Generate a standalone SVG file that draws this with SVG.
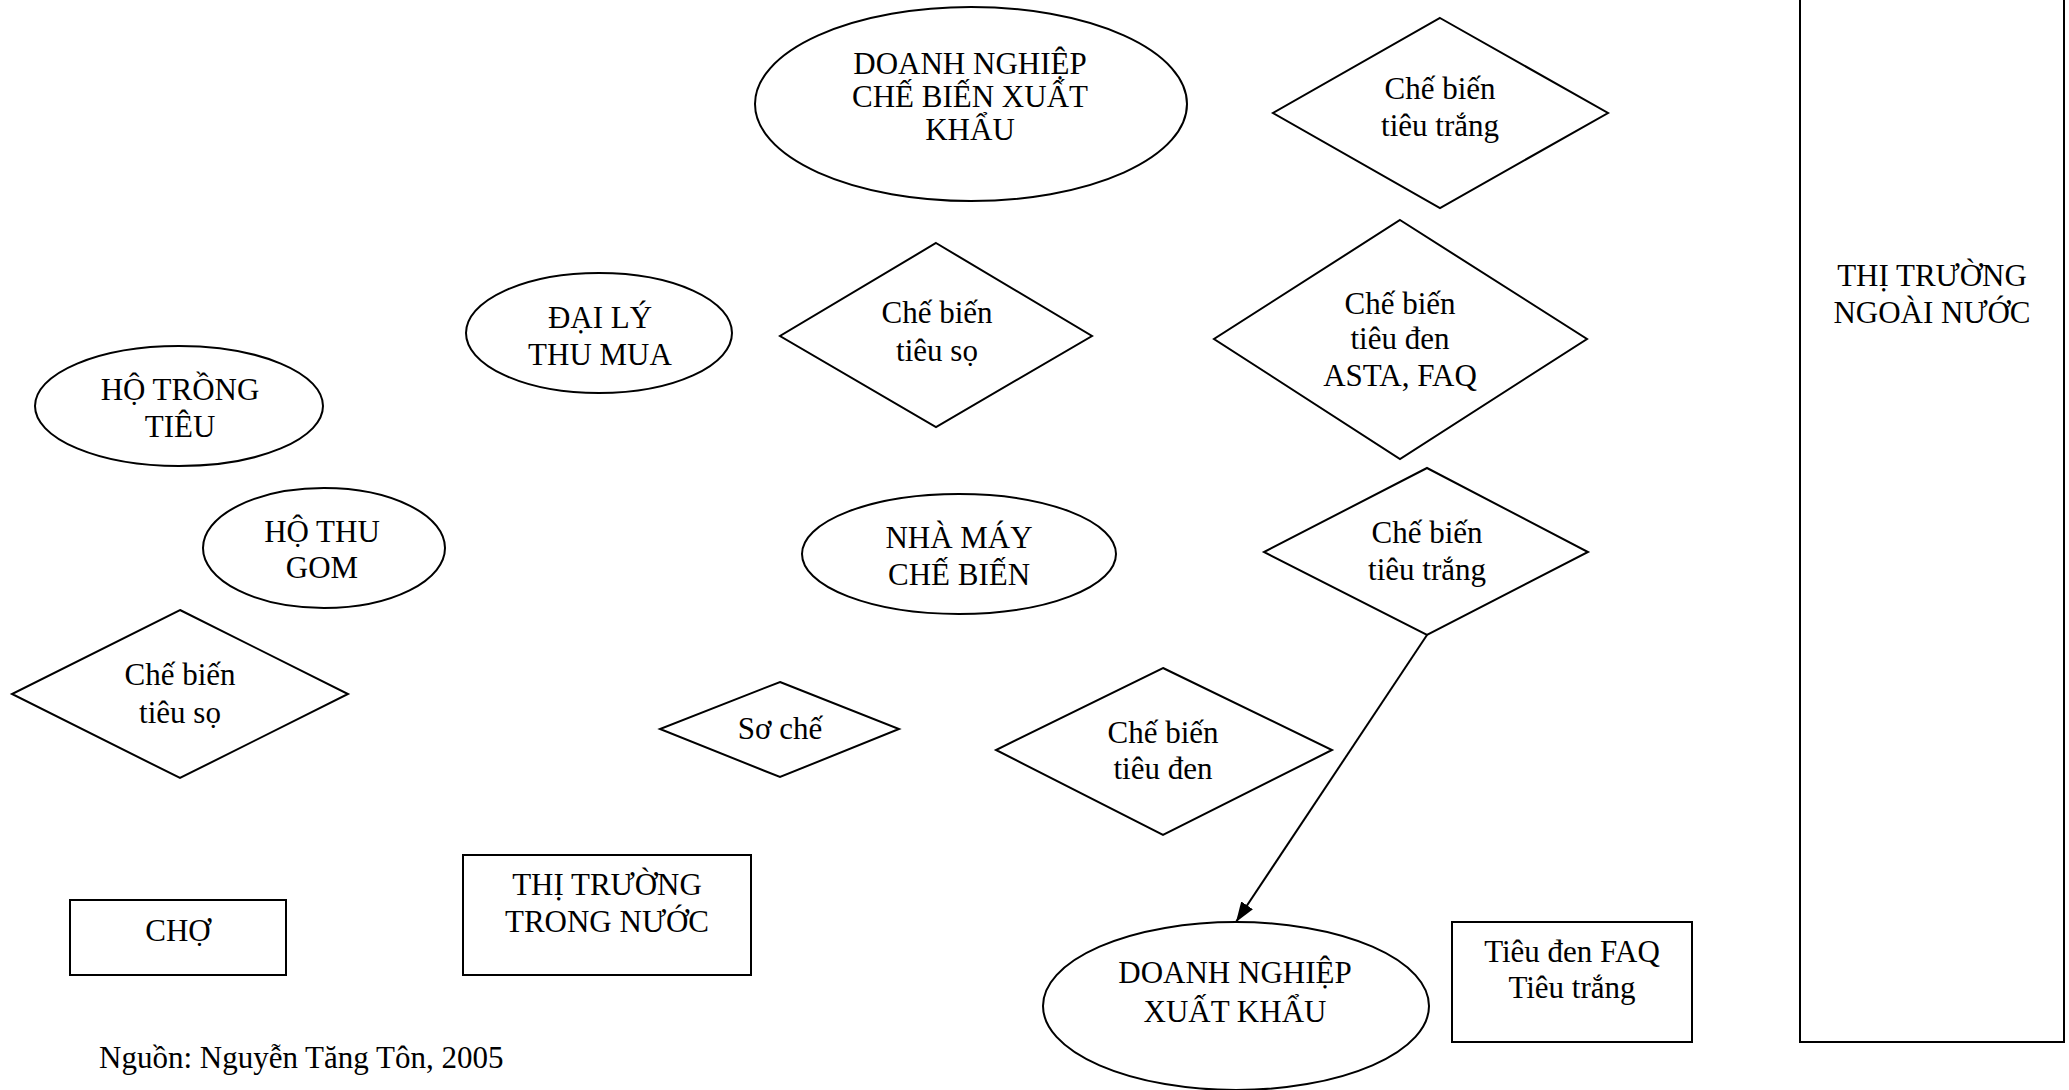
<svg xmlns="http://www.w3.org/2000/svg" width="2069" height="1090" viewBox="0 0 2069 1090">
<style>
.s{fill:#fff;stroke:#000;stroke-width:2}
.t{font-family:"Liberation Serif","Times New Roman",serif;font-size:31px;fill:#000;text-anchor:middle}
.c{stroke:#000;stroke-width:2;fill:none}
</style>
<defs>
<marker id="ah" viewBox="0 0 20 14" refX="20" refY="7" markerWidth="20" markerHeight="14" markerUnits="userSpaceOnUse" orient="auto">
<path d="M0,0 L20,7 L0,14 z" fill="#000"/>
</marker>
</defs>
<rect width="2069" height="1090" fill="#fff"/>
<g id="dn_cbxk"><ellipse class="s" cx="971" cy="104" rx="216" ry="97"/>
<text class="t" x="970" y="74">DOANH NGHIỆP</text><text class="t" x="970" y="107">CHẾ BIẾN XUẤT</text><text class="t" x="970" y="140">KHẨU</text></g>
<g id="cb_trang1"><polygon class="s" points="1440,18 1608,113 1440,208 1273,113"/>
<text class="t" x="1440" y="99">Chế biến</text><text class="t" x="1440" y="136">tiêu trắng</text></g>
<g id="cb_asta"><polygon class="s" points="1400,220 1587,339 1400,459 1214,339"/>
<text class="t" x="1400" y="314">Chế biến</text><text class="t" x="1400" y="349">tiêu đen</text><text class="t" x="1400" y="386">ASTA, FAQ</text></g>
<g id="cb_trang2"><polygon class="s" points="1427,468 1588,552 1427,635 1264,552"/>
<text class="t" x="1427" y="543">Chế biến</text><text class="t" x="1427" y="580">tiêu trắng</text></g>
<g id="dai_ly"><ellipse class="s" cx="599" cy="333" rx="133" ry="60"/>
<text class="t" x="600" y="328">ĐẠI LÝ</text><text class="t" x="600" y="365">THU MUA</text></g>
<g id="cb_so_mid"><polygon class="s" points="936,243 1092,336 936,427 780,336"/>
<text class="t" x="937" y="323">Chế biến</text><text class="t" x="937" y="361">tiêu sọ</text></g>
<g id="ho_trong"><ellipse class="s" cx="179" cy="406" rx="144" ry="60"/>
<text class="t" x="180" y="400">HỘ TRỒNG</text><text class="t" x="180" y="437">TIÊU</text></g>
<g id="ho_thu_gom"><ellipse class="s" cx="324" cy="548" rx="121" ry="60"/>
<text class="t" x="322" y="542">HỘ THU</text><text class="t" x="322" y="578">GOM</text></g>
<g id="nha_may"><ellipse class="s" cx="959" cy="554" rx="157" ry="60"/>
<text class="t" x="959" y="548">NHÀ MÁY</text><text class="t" x="959" y="585">CHẾ BIẾN</text></g>
<g id="cb_so_left"><polygon class="s" points="180,610 348,694 180,778 12,694"/>
<text class="t" x="180" y="685">Chế biến</text><text class="t" x="180" y="723">tiêu sọ</text></g>
<g id="so_che"><polygon class="s" points="780,682 899,729 780,777 660,729"/>
<text class="t" x="780" y="739">Sơ chế</text></g>
<g id="cb_den"><polygon class="s" points="1163,668 1332,750 1163,835 996,750"/>
<text class="t" x="1163" y="743">Chế biến</text><text class="t" x="1163" y="779">tiêu đen</text></g>
<g id="cho"><rect class="s" x="70" y="900" width="216" height="75"/>
<text class="t" x="178" y="941">CHỢ</text></g>
<g id="tt_trong"><rect class="s" x="463" y="855" width="288" height="120"/>
<text class="t" x="607" y="895">THỊ TRƯỜNG</text><text class="t" x="607" y="932">TRONG NƯỚC</text></g>
<g id="dn_xk"><ellipse class="s" cx="1236" cy="1006" rx="193" ry="84"/>
<text class="t" x="1235" y="983">DOANH NGHIỆP</text><text class="t" x="1235" y="1022">XUẤT KHẨU</text></g>
<g id="tieu_den_faq"><rect class="s" x="1452" y="922" width="240" height="120"/>
<text class="t" x="1572" y="962">Tiêu đen FAQ</text><text class="t" x="1572" y="998">Tiêu trắng</text></g>
<g id="tt_ngoai"><rect class="s" x="1800" y="-5" width="264" height="1047"/>
<text class="t" x="1932" y="286">THỊ TRƯỜNG</text><text class="t" x="1932" y="323">NGOÀI NƯỚC</text></g>
<g id="source"><text class="t" x="99" y="1068" style="text-anchor:start">Nguồn: Nguyễn Tăng Tôn, 2005</text></g>
<g id="connectors">
<line class="c" x1="1427" y1="635" x2="1236" y2="922" marker-end="url(#ah)"/>
</g>
</svg>
